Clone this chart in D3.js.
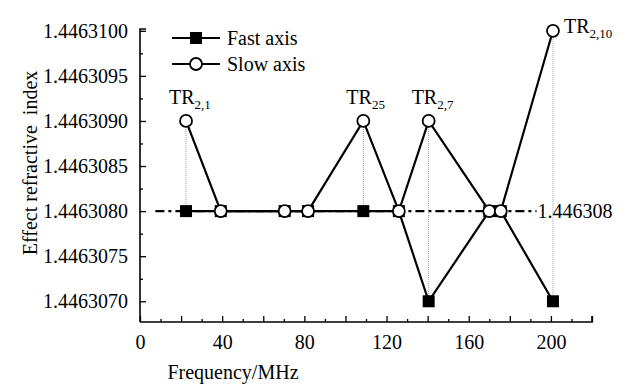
<!DOCTYPE html>
<html>
<head>
<meta charset="utf-8">
<script src="https://cdn.jsdelivr.net/npm/d3@7"></script>
<style>
  body { margin: 0; background: #fff; }
  svg text { font-family: "Liberation Serif", "Times New Roman", serif; fill: #000; }
</style>
</head>
<body>
<div id="chart"></div>
<script>
const width = 631;
const height = 386;

// data
const freq = [22.4, 39.3, 70.4, 81.8, 108.7, 126, 140.5, 170, 175.6, 201];
const fastAxis = [1.446308, 1.446308, 1.446308, 1.446308, 1.446308, 1.446308, 1.446307, 1.446308, 1.446308, 1.446307];
const slowAxis = [1.446309, 1.446308, 1.446308, 1.446308, 1.446309, 1.446308, 1.446309, 1.446308, 1.446308, 1.446310];
const xTicks = [0, 40, 80, 120, 160, 200];
const yTicks = [1.4463070, 1.4463075, 1.4463080, 1.4463085, 1.4463090, 1.4463095, 1.4463100];
const refValue = 1.446308;
const refRange = [7.5, 193];
// resonance labels: index into freq, main text, subscript
const labels = [
    {i: 0, sub: "2,1"},
    {i: 4, sub: "25"},
    {i: 6, sub: "2,7"},
    {i: 9, sub: "2,10"}
];

const x = d3.scaleLinear().domain([0, 220]).range([140, 592]);
const y = d3.scaleLinear().domain([1.44630677, 1.44631002]).range([322, 29]);

const svg = d3.select("#chart").append("svg")
    .attr("width", width)
    .attr("height", height);

// axes, ticks pointing inward
const xAxis = d3.axisBottom(x)
    .tickValues(d3.range(0, 221, 20))
    .tickSize(-6)
    .tickFormat(d => xTicks.includes(d) ? d : "");
const gx = svg.append("g")
    .attr("transform", "translate(0," + y.range()[0] + ")")
    .call(xAxis);
gx.selectAll(".tick text").attr("dy", "0").attr("y", 27).style("font-size", "20px");
svg.append("g")
    .attr("transform", "translate(0," + y.range()[0] + ")")
    .call(d3.axisBottom(x).tickValues(d3.range(10, 221, 20)).tickSize(-3).tickFormat(""))
    .select(".domain").remove();

const yAxis = d3.axisLeft(y)
    .tickValues(yTicks)
    .tickSize(-6)
    .tickFormat(d3.format(".7f"));
const gy = svg.append("g")
    .attr("transform", "translate(" + x.range()[0] + ",0)")
    .call(yAxis);
gy.selectAll(".tick text").attr("x", -12).style("font-size", "20px");
svg.append("g")
    .attr("transform", "translate(" + x.range()[0] + ",0)")
    .call(d3.axisLeft(y).tickValues(d3.range(0, 7).map(k => 1.44630725 + k * 0.0000005).slice(0, 6)).tickSize(-3).tickFormat(""))
    .select(".domain").remove();

svg.selectAll(".domain").attr("stroke-width", 1.6).attr("d", function () { return d3.select(this).attr("d"); });
gx.select(".domain").attr("d", "M" + x.range()[0] + ",0H" + x.range()[1] + "V-6");
gy.select(".domain").attr("d", "M6," + y.range()[1] + "H0V" + y.range()[0]);
svg.selectAll(".tick line").attr("stroke-width", 1.3);

// axis titles
svg.append("text")
    .attr("x", 233).attr("y", 379)
    .attr("text-anchor", "middle")
    .style("font-size", "20px")
    .text("Frequency/MHz");
svg.append("text")
    .attr("transform", "translate(37,163) rotate(-90)")
    .attr("text-anchor", "middle")
    .style("font-size", "20px")
    .style("white-space", "pre")
    .attr("xml:space", "preserve")
    .text("Effect refractive  index");

// reference dash-dot line
svg.append("line")
    .attr("x1", x(refRange[0])).attr("x2", x(refRange[1]))
    .attr("y1", y(refValue)).attr("y2", y(refValue))
    .attr("stroke", "#000").attr("stroke-width", 2.2)
    .attr("stroke-dasharray", "9,4,3,4");
svg.append("text")
    .attr("x", x(refRange[1]) + 1).attr("y", y(refValue) + 7)
    .style("font-size", "20px")
    .text("1.446308");

// dotted guides between the two series
svg.selectAll(".guide")
    .data(labels)
    .enter().append("line")
    .attr("class", "guide")
    .attr("x1", d => x(freq[d.i])).attr("x2", d => x(freq[d.i]))
    .attr("y1", d => y(slowAxis[d.i])).attr("y2", d => y(fastAxis[d.i]))
    .attr("stroke", "#999").attr("stroke-width", 1)
    .attr("stroke-dasharray", "1,1");

const line = d3.line().x(d => x(d[0])).y(d => y(d[1]));
const fastPts = freq.map((f, i) => [f, fastAxis[i]]);
const slowPts = freq.map((f, i) => [f, slowAxis[i]]);

svg.append("path").attr("d", line(fastPts))
    .attr("fill", "none").attr("stroke", "#000").attr("stroke-width", 2.2);
svg.append("path").attr("d", line(slowPts))
    .attr("fill", "none").attr("stroke", "#000").attr("stroke-width", 2.2);

svg.selectAll(".sq")
    .data(fastPts)
    .enter().append("rect")
    .attr("class", "sq")
    .attr("x", d => x(d[0]) - 6).attr("y", d => y(d[1]) - 6)
    .attr("width", 12).attr("height", 12)
    .attr("fill", "#000");
svg.selectAll(".ci")
    .data(slowPts)
    .enter().append("circle")
    .attr("class", "ci")
    .attr("cx", d => x(d[0])).attr("cy", d => y(d[1]))
    .attr("r", 6)
    .attr("fill", "#fff").attr("stroke", "#000").attr("stroke-width", 1.8);

// TR labels
labels.forEach(function (d) {
    const px = x(freq[d.i]);
    const py = y(slowAxis[d.i]);
    const t = svg.append("text").style("font-size", "20px");
    if (d.i === 9) {
        t.attr("x", px + 11).attr("y", py + 2);
    } else {
        t.attr("x", px - 17).attr("y", py - 17);
    }
    t.append("tspan").text("TR");
    t.append("tspan").attr("dy", 5).style("font-size", "13px").text(d.sub);
});

// legend
const legend = svg.append("g");
const legendItems = [["Fast axis", "sq"], ["Slow axis", "ci"]];
legendItems.forEach(function (item, k) {
    const ly = 38 + k * 26;
    legend.append("line")
        .attr("x1", 172).attr("x2", 220).attr("y1", ly).attr("y2", ly)
        .attr("stroke", "#000").attr("stroke-width", 2.2);
    if (item[1] === "sq") {
        legend.append("rect").attr("x", 190).attr("y", ly - 6).attr("width", 12).attr("height", 12).attr("fill", "#000");
    } else {
        legend.append("circle").attr("cx", 196).attr("cy", ly).attr("r", 6)
            .attr("fill", "#fff").attr("stroke", "#000").attr("stroke-width", 1.8);
    }
    legend.append("text")
        .attr("x", 227).attr("y", ly + 7)
        .style("font-size", "20px")
        .text(item[0]);
});
</script>
</body>
</html>
